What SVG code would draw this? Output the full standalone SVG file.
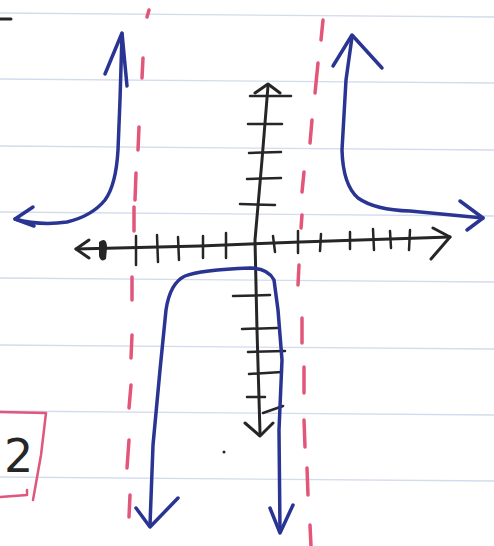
<svg xmlns="http://www.w3.org/2000/svg" width="494" height="546" viewBox="0 0 494 546">
<style>
.rule{stroke:#d3dbee;stroke-width:1.3;fill:none}
.red{stroke:#e2567a;stroke-width:3.5;stroke-linecap:round;fill:none}
.blk{stroke:#262626;stroke-width:3;stroke-linecap:round;stroke-linejoin:round;fill:none}
.tick{stroke:#262626;stroke-width:2.5;stroke-linecap:round;fill:none}
.blue{stroke:#2a3593;stroke-width:3.5;stroke-linecap:round;stroke-linejoin:round;fill:none}
.box{stroke:#e0567c;stroke-width:2.5;stroke-linecap:round;stroke-linejoin:round;fill:none}
</style>
<rect width="494" height="546" fill="#ffffff"/>
<g id="paper">
<line class="rule" x1="0" y1="13" x2="494" y2="17"/>
<line class="rule" x1="0" y1="79" x2="494" y2="83"/>
<line class="rule" x1="0" y1="146" x2="494" y2="150"/>
<line class="rule" x1="0" y1="212" x2="494" y2="216"/>
<line class="rule" x1="0" y1="278" x2="494" y2="282"/>
<line class="rule" x1="0" y1="345" x2="494" y2="349"/>
<line class="rule" x1="0" y1="411" x2="494" y2="415"/>
<line class="rule" x1="0" y1="477" x2="494" y2="481"/>
</g>
<g id="asymptote-left">
<line class="red" x1="149" y1="10" x2="147" y2="17"/>
<line class="red" x1="143" y1="58" x2="142" y2="78"/>
<line class="red" x1="139" y1="127" x2="138" y2="150"/>
<line class="red" x1="136" y1="173" x2="135" y2="200"/>
<line class="red" x1="134" y1="207" x2="134" y2="231"/>
<line class="red" x1="132" y1="277" x2="132" y2="300"/>
<line class="red" x1="132" y1="335" x2="131" y2="358"/>
<line class="red" x1="131" y1="385" x2="129" y2="408"/>
<line class="red" x1="129" y1="440" x2="127" y2="468"/>
<line class="red" x1="130" y1="495" x2="129" y2="517"/>
</g>
<g id="asymptote-right">
<line class="red" x1="323" y1="20" x2="321" y2="40"/>
<line class="red" x1="318" y1="63" x2="315" y2="93"/>
<line class="red" x1="312" y1="120" x2="310" y2="143"/>
<line class="red" x1="304" y1="172" x2="302" y2="192"/>
<line class="red" x1="302" y1="215" x2="301" y2="228"/>
<line class="red" x1="299" y1="265" x2="298" y2="285"/>
<line class="red" x1="302" y1="318" x2="302" y2="343"/>
<line class="red" x1="304" y1="367" x2="304" y2="393"/>
<line class="red" x1="304" y1="420" x2="305" y2="447"/>
<line class="red" x1="307" y1="468" x2="308" y2="495"/>
<line class="red" x1="310" y1="525" x2="311" y2="546"/>
</g>
<g id="x-axis">
<path class="blk" d="M76 249 L200 246 L300 242 L450 237"/>
<path class="blk" d="M89 240 L76 249 L89 258"/>
<path class="blk" d="M433 228 L450 237 L431 259"/>
<path d="M99 242 Q107 236 107 248 L106 259 Q101 263 99 256 Z" fill="#262626"/>
<line class="tick" x1="136" y1="236" x2="136" y2="265"/>
<line class="tick" x1="157" y1="235" x2="158" y2="262"/>
<line class="tick" x1="178" y1="237" x2="179" y2="260"/>
<line class="tick" x1="203" y1="236" x2="203" y2="258"/>
<line class="tick" x1="226" y1="233" x2="226" y2="258"/>
<line class="tick" x1="273" y1="236" x2="275" y2="252"/>
<line class="tick" x1="298" y1="231" x2="298" y2="253"/>
<line class="tick" x1="321" y1="234" x2="320" y2="251"/>
<line class="tick" x1="350" y1="232" x2="350" y2="249"/>
<line class="tick" x1="373" y1="229" x2="374" y2="250"/>
<line class="tick" x1="390" y1="231" x2="391" y2="248"/>
<line class="tick" x1="410" y1="230" x2="409" y2="250"/>
</g>
<g id="y-axis">
<path class="blk" d="M268 86 L262 160 L255 240 L257 330 L260 433"/>
<path class="blk" d="M255 93 L268 84 L280 93"/>
<path class="blk" d="M245 423 L260 436 L273 423"/>
<line class="tick" x1="250" y1="96" x2="291" y2="96"/>
<line class="tick" x1="248" y1="124" x2="282" y2="124"/>
<line class="tick" x1="249" y1="153" x2="281" y2="152"/>
<line class="tick" x1="247" y1="179" x2="281" y2="178"/>
<line class="tick" x1="240" y1="204" x2="275" y2="205"/>
<line class="tick" x1="233" y1="296" x2="270" y2="295"/>
<line class="tick" x1="242" y1="329" x2="277" y2="328"/>
<line class="tick" x1="248" y1="352" x2="285" y2="351"/>
<line class="tick" x1="249" y1="374" x2="282" y2="372"/>
<line class="tick" x1="247" y1="397" x2="265" y2="397"/>
<line class="tick" x1="263" y1="413" x2="283" y2="406"/>
</g>
<g id="curve-top-left">
<path class="blue" d="M122 34 L120 100 L118 150 Q116 185 105 200 Q92 216 67 222 Q40 226 15 219"/>
<path class="blue" d="M105 74 L122 33 L127 86"/>
<path class="blue" d="M33 207 L15 219 L34 226"/>
</g>
<g id="curve-top-right">
<path class="blue" d="M352 37 L346 80 L342 150 Q343 185 358 198 Q375 210 410 211 L483 218"/>
<path class="blue" d="M333 66 L352 35 L382 68"/>
<path class="blue" d="M460 201 L483 218 L467 230"/>
</g>
<g id="curve-bottom">
<path class="blue" d="M150 525 L153 445 L160 370 L166 310 Q170 283 185 276 Q200 270 250 268 Q268 268 274 280 L278 310 L282 360 L279 430 L280 532"/>
<path class="blue" d="M136 508 L150 527 L178 498"/>
<path class="blue" d="M270 508 L280 533 L293 505"/>
</g>
<circle cx="224" cy="452" r="1.5" fill="#262626"/>
<line x1="0" y1="19" x2="11" y2="19" stroke="#262626" stroke-width="3" stroke-linecap="round"/>
<g id="label-box">
<path class="box" d="M0 412 L46 413 L41 455 L33 500"/>
<path class="box" d="M0 497 L27 495 L27 490"/>
<text x="4" y="472" font-family="DejaVu Sans, sans-serif" font-size="46" fill="#262626">2</text>
</g>
</svg>
